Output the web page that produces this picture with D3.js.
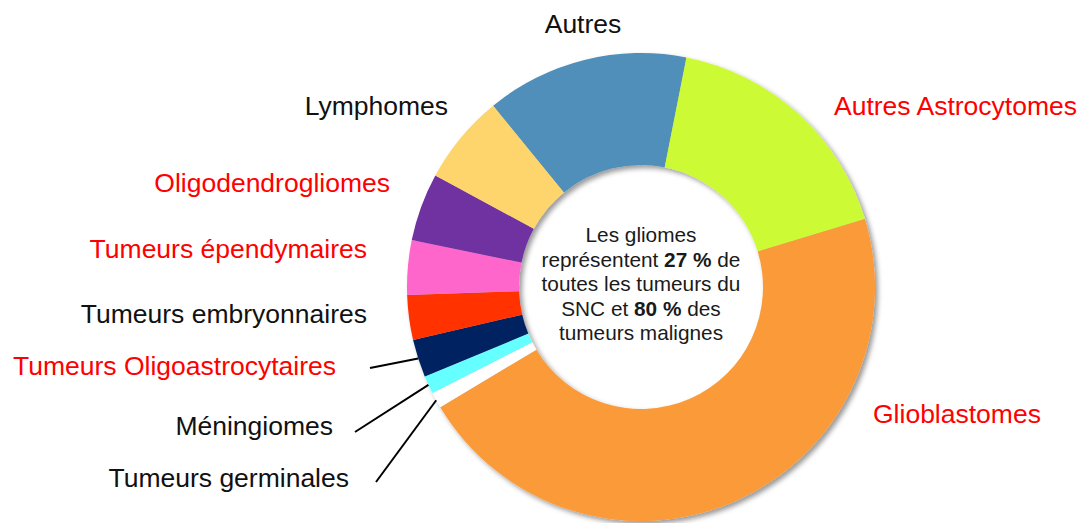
<!DOCTYPE html>
<html>
<head>
<meta charset="utf-8">
<script src="https://cdn.jsdelivr.net/npm/d3@7"></script>
<style>
  html, body { margin: 0; padding: 0; background: #fff; }
  svg { display: block; font-family: "Liberation Sans", Arial, sans-serif; }
</style>
</head>
<body>
<div id="chart"></div>
<script>
// DATA
// ------------------------------------------------------------------

// Slices in clockwise order, starting with "Autres" (share of CNS tumours, %)
var categories = ["Autres", "Autres Astrocytomes", "Glioblastomes", "Tumeurs germinales",
                  "Méningiomes", "Tumeurs Oligoastrocytaires", "Tumeurs embryonnaires",
                  "Tumeurs épendymaires", "Oligodendrogliomes", "Lymphomes"];
var values = [14.0, 17.2, 46.1, 1.1, 1.25, 2.6, 3.1, 3.75, 4.7, 6.2];
var isGlioma = [false, true, true, false, false, true, false, true, true, false];
var centerLines = [
  [["Les gliomes", false]],
  [["représentent ", false], ["27 %", true], [" de", false]],
  [["toutes les tumeurs du", false]],
  [["SNC et ", false], ["80 %", true], [" des", false]],
  [["tumeurs malignes", false]]
];

// STYLE / LAYOUT
// ------------------------------------------------------------------

var colors = ["#4f8fba", "#ccfb36", "#fb9a38", "#ffffff", "#66ffff",
              "#002060", "#ff3300", "#ff66cc", "#7030a0", "#fdd56c"];

// label anchor (x, baseline y, text-anchor) and optional leader-line start
var labelLayout = {
  "Autres":                     { x: 583, y: 33,  anchor: "middle" },
  "Autres Astrocytomes":        { x: 834, y: 115, anchor: "start" },
  "Glioblastomes":              { x: 873, y: 423, anchor: "start" },
  "Tumeurs germinales":         { x: 349, y: 487, anchor: "end", line: [376, 482] },
  "Méningiomes":                { x: 333, y: 435, anchor: "end", line: [355, 432] },
  "Tumeurs Oligoastrocytaires": { x: 336, y: 375, anchor: "end", line: [370, 368] },
  "Tumeurs embryonnaires":      { x: 367, y: 323, anchor: "end" },
  "Tumeurs épendymaires":       { x: 367, y: 258, anchor: "end" },
  "Oligodendrogliomes":         { x: 390, y: 192, anchor: "end" },
  "Lymphomes":                  { x: 448, y: 115, anchor: "end" }
};

// CANVAS
// ------------------------------------------------------------------

var width = 1080,
    height = 523;

var svg = d3.select("#chart")
    .append("svg")
    .attr("width", width)
    .attr("height", height);

var cx = 641,
    cy = 287,
    outerR = 234,
    innerR = 122;

// soft shadow like the office export
var defs = svg.append("defs");
var filter = defs.append("filter")
    .attr("id", "shadow")
    .attr("x", "-20%").attr("y", "-20%")
    .attr("width", "140%").attr("height", "140%");
filter.append("feDropShadow")
    .attr("dx", 3)
    .attr("dy", 3)
    .attr("stdDeviation", 2.5)
    .attr("flood-color", "#000")
    .attr("flood-opacity", 0.4);

// DONUT
// ------------------------------------------------------------------

var startAngle = -39.2 * Math.PI / 180;

var pie = d3.pie()
    .sort(null)
    .value(function(d) { return d.value; })
    .startAngle(startAngle)
    .endAngle(startAngle + 2 * Math.PI);

var data = categories.map(function(c, i) {
  return { name: c, value: values[i], glioma: isGlioma[i], color: colors[i] };
});

var arcs = pie(data);

var arc = d3.arc()
    .innerRadius(innerR)
    .outerRadius(outerR);

var ring = svg.append("g")
    .attr("transform", "translate(" + cx + "," + cy + ")")
    .attr("filter", "url(#shadow)");

ring.selectAll("path")
    .data(arcs)
    .enter()
    .append("path")
    .attr("d", arc)
    .attr("fill", function(d) { return d.data.color; });

// LABELS
// ------------------------------------------------------------------

var labels = svg.append("g");

arcs.forEach(function(d) {
  var pos = labelLayout[d.data.name];
  labels.append("text")
      .attr("x", pos.x)
      .attr("y", pos.y)
      .attr("text-anchor", pos.anchor)
      .style("font-size", "26.5px")
      .attr("fill", d.data.glioma ? "#ff0000" : "#111111")
      .text(d.data.name);

  if (pos.line) {
    var mid = (d.startAngle + d.endAngle) / 2;
    labels.append("line")
        .attr("x1", pos.line[0])
        .attr("y1", pos.line[1])
        .attr("x2", cx + outerR * Math.sin(mid))
        .attr("y2", cy - outerR * Math.cos(mid))
        .attr("stroke", "#000")
        .attr("stroke-width", 2);
  }
});

// CENTRE TEXT
// ------------------------------------------------------------------

var centre = svg.append("text")
    .attr("text-anchor", "middle")
    .style("font-size", "20.8px")
    .attr("fill", "#1a1a1a");

var lineH = 24.6,
    firstY = 242;

centerLines.forEach(function(parts, i) {
  parts.forEach(function(p, j) {
    var t = centre.append("tspan")
        .style("font-weight", p[1] ? "bold" : "normal")
        .text(p[0]);
    if (j == 0) t.attr("x", cx).attr("y", firstY + i * lineH);
  });
});
</script>
</body>
</html>
